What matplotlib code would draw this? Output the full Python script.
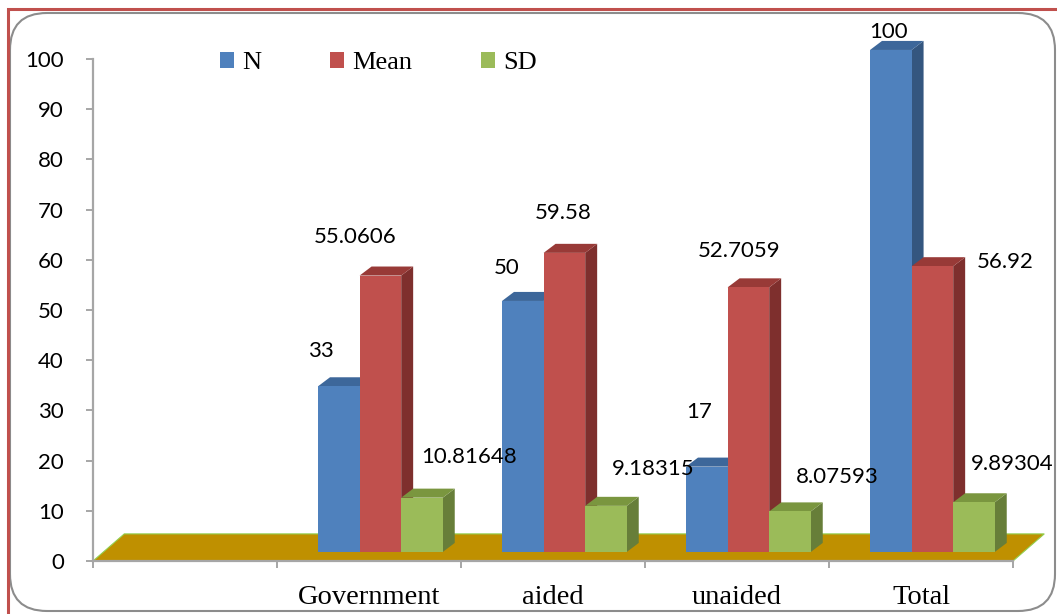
import numpy as np
import matplotlib.pyplot as plt
from matplotlib.patches import Polygon, Rectangle, FancyBboxPatch, Patch

categories = ["", "Government", "aided", "unaided", "Total"]
series = ["N", "Mean", "SD"]
n_vals = [None, 33, 50, 17, 100]
mean_vals = [None, 55.0606, 59.58, 52.7059, 56.92]
sd_vals = [None, 10.81648, 9.18315, 8.07593, 9.89304]
yticks = [0, 10, 20, 30, 40, 50, 60, 70, 80, 90, 100]

front = ["#4F81BD", "#C0504D", "#9BBB59"]
top_c = ["#3D679A", "#983A37", "#7A963F"]
side_c = ["#34567F", "#7E2F2D", "#677E39"]

# label offsets (pixels) from the front-top centre of each bar
label_off = {
    (1, 0): (-18, 35), (1, 1): (-25, 39), (1, 2): (47, 41),
    (2, 0): (-16, 33), (2, 1): (-1, 40), (2, 2): (47, 37),
    (3, 0): (-8, 55), (3, 1): (-9, 36), (3, 2): (47, 34),
    (4, 0): (-2, 18), (4, 1): (73, 4), (4, 2): (38, 38),
}

fig = plt.figure(figsize=(10.57, 6.14), dpi=100)

# outer frame: grey rounded border, red edge (left + top) over it
fig.patches.append(FancyBboxPatch((10 / 1057, 3 / 614), 1045 / 1057, 598 / 614,
                                  boxstyle="round,pad=0,rounding_size=0.035",
                                  mutation_aspect=1057 / 614,
                                  transform=fig.transFigure, fill=False,
                                  edgecolor="#8C8C8C", linewidth=1.5, zorder=1))
fig.patches.append(Rectangle((8 / 1057, -0.1), 1.2, 1.1 - 9 / 614,
                             transform=fig.transFigure, fill=False,
                             edgecolor="#C0504D", linewidth=2.2, zorder=2))

ax = fig.add_axes([93 / 1057, 53 / 614, 920 / 1057, 502 / 614])
ax.set_xlim(0, 5)
ax.set_ylim(0, 100)

base = 1.8      # bars stand on the floor
w = 0.226       # bar width (category units)
ddx, ddy = 0.065, 1.8   # depth of the 3d effect
start = 0.223

# floor
floor = Polygon([(0, 0), (0.17, 5.4), (5.17, 5.4), (5.0, 0)], closed=True,
                facecolor="#BF9000", edgecolor="#92D050", linewidth=0.8,
                clip_on=False, zorder=1)
ax.add_patch(floor)

data = [n_vals, mean_vals, sd_vals]
for c in range(len(categories)):
    for i, vals in enumerate(data):
        v = vals[c]
        if v is None:
            continue
        x0 = c + start + i * w
        t = base + v
        z = 2 + c * 3 + i
        ax.add_patch(Polygon([(x0 + w, base), (x0 + w + ddx, base + ddy),
                              (x0 + w + ddx, t + ddy), (x0 + w, t)],
                             facecolor=side_c[i], edgecolor="none",
                             clip_on=False, zorder=z))
        ax.add_patch(Polygon([(x0, t), (x0 + ddx, t + ddy),
                              (x0 + w + ddx, t + ddy), (x0 + w, t)],
                             facecolor=top_c[i], edgecolor="none",
                             clip_on=False, zorder=z))
        ax.add_patch(Rectangle((x0, base), w, v, facecolor=front[i],
                               edgecolor="none", clip_on=False, zorder=z))
        ox, oy = label_off[(c, i)]
        ax.annotate(str(v), (x0 + w / 2, t), xytext=(ox, oy),
                    textcoords="offset pixels", ha="center", va="center",
                    fontsize=16, family="Lato", color="black", zorder=30,
                    annotation_clip=False)

for s in ["top", "right"]:
    ax.spines[s].set_visible(False)
for s in ["left", "bottom"]:
    ax.spines[s].set_color("#A6A6A6")
    ax.spines[s].set_linewidth(1.6)

ax.set_yticks(yticks)
ax.set_yticklabels([str(t) for t in yticks], fontsize=16, family="Lato")
ax.tick_params(axis="y", length=5, width=1.4, color="#A6A6A6", pad=16)

ax.set_xticks(np.arange(len(categories)) + 0.5)
ax.set_xticklabels(categories, fontsize=20.5, family="Liberation Serif")
ax.set_xticks(np.arange(len(categories) + 1), minor=True)
ax.tick_params(axis="x", which="major", length=0, pad=17)
ax.tick_params(axis="x", which="minor", length=5, width=1.4, color="#A6A6A6")

handles = [Patch(facecolor=front[i], label=series[i]) for i in range(3)]
fig.legend(handles=handles, loc="upper left", bbox_to_anchor=(196 / 1057, 1 - 28 / 614),
           ncol=3, frameon=False, prop={"family": "Liberation Serif", "size": 19},
           handlelength=0.55, handleheight=0.55, handletextpad=0.3,
           columnspacing=2.6)

fig.savefig("out.png", dpi=100)
